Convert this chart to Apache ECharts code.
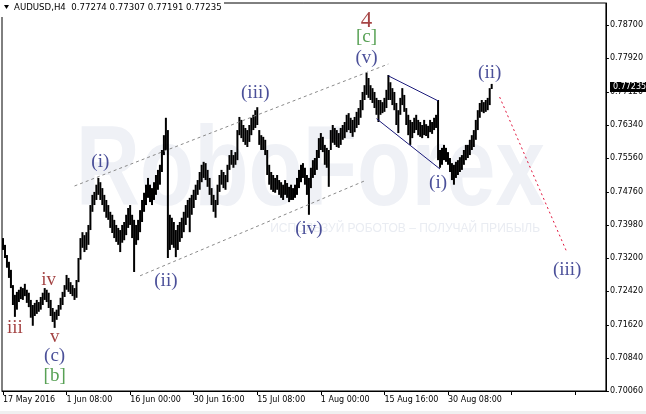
<!DOCTYPE html>
<html><head><meta charset="utf-8">
<script src="https://cdn.jsdelivr.net/npm/echarts@6/dist/echarts.min.js"></script>
<style>html,body{margin:0;padding:0;background:#fff}#c{width:646px;height:414px}</style>
</head><body><div id="c"></div>
<script>
// ---- data (H4 bars, grouped two per slot: high / low) ----
const highs=[
0.7367,0.7351,0.7327,0.7311,0.7292,0.7256,0.7233,0.7240,0.7245,0.7252,
0.7249,0.7259,0.7245,0.7238,0.7221,0.7209,0.7214,0.7221,0.7216,0.7228,
0.7238,0.7249,0.7245,0.7238,0.7221,0.7202,0.7193,0.7198,0.7209,0.7226,
0.7240,0.7256,0.7280,0.7273,0.7263,0.7256,0.7249,0.7268,0.7320,0.7367,
0.7381,0.7374,0.7381,0.7398,0.7445,0.7469,0.7476,0.7493,0.7509,0.7499,
0.7485,0.7469,0.7457,0.7445,0.7429,0.7422,0.7410,0.7398,0.7391,0.7386,
0.7398,0.7405,0.7422,0.7438,0.7445,0.7422,0.7410,0.7398,0.7410,0.7433,
0.7457,0.7474,0.7493,0.7509,0.7493,0.7485,0.7499,0.7516,0.7528,0.7540,
0.7575,0.7610,0.7651,0.7622,0.7422,0.7415,0.7405,0.7386,0.7398,0.7405,
0.7415,0.7429,0.7445,0.7457,0.7462,0.7469,0.7481,0.7493,0.7504,0.7523,
0.7540,0.7547,0.7544,0.7528,0.7509,0.7485,0.7469,0.7457,0.7493,0.7516,
0.7528,0.7523,0.7516,0.7540,0.7563,0.7575,0.7563,0.7570,0.7622,0.7653,
0.7646,0.7634,0.7627,0.7622,0.7634,0.7651,0.7658,0.7669,0.7676,0.7622,
0.7610,0.7606,0.7599,0.7575,0.7540,0.7523,0.7516,0.7509,0.7516,0.7504,
0.7499,0.7493,0.7504,0.7497,0.7488,0.7493,0.7485,0.7493,0.7509,0.7528,
0.7540,0.7544,0.7533,0.7516,0.7509,0.7533,0.7551,0.7556,0.7575,0.7603,
0.7615,0.7606,0.7587,0.7580,0.7575,0.7622,0.7634,0.7627,0.7622,0.7615,
0.7627,0.7634,0.7641,0.7658,0.7662,0.7651,0.7646,0.7653,0.7665,0.7674,
0.7693,0.7712,0.7728,0.7757,0.7745,0.7728,0.7721,0.7712,0.7698,0.7693,
0.7693,0.7688,0.7698,0.7717,0.7752,0.7735,0.7721,0.7712,0.7686,0.7669,
0.7698,0.7721,0.7705,0.7674,0.7658,0.7646,0.7641,0.7651,0.7658,0.7646,
0.7641,0.7634,0.7646,0.7636,0.7632,0.7646,0.7641,0.7651,0.7658,0.7693,
0.7575,0.7580,0.7587,0.7580,0.7570,0.7556,0.7544,0.7540,0.7547,0.7551,
0.7558,0.7563,0.7575,0.7587,0.7587,0.7599,0.7610,0.7622,0.7646,0.7669,
0.7686,0.7693,0.7688,0.7693,0.7698,0.7721,0.7731];
const lows=[
0.7339,0.7320,0.7297,0.7273,0.7249,0.7209,0.7181,0.7198,0.7216,0.7223,
0.7221,0.7230,0.7214,0.7204,0.7179,0.7160,0.7183,0.7188,0.7193,0.7198,
0.7209,0.7221,0.7216,0.7202,0.7183,0.7169,0.7155,0.7174,0.7183,0.7198,
0.7209,0.7228,0.7245,0.7240,0.7235,0.7230,0.7221,0.7226,0.7263,0.7316,
0.7344,0.7334,0.7339,0.7351,0.7386,0.7429,0.7445,0.7457,0.7469,0.7457,
0.7445,0.7429,0.7415,0.7410,0.7391,0.7379,0.7367,0.7358,0.7351,0.7334,
0.7356,0.7362,0.7374,0.7391,0.7398,0.7367,0.7287,0.7351,0.7362,0.7381,
0.7405,0.7429,0.7445,0.7462,0.7452,0.7445,0.7457,0.7469,0.7481,0.7493,
0.7523,0.7563,0.7575,0.7320,0.7339,0.7351,0.7344,0.7322,0.7339,0.7358,
0.7367,0.7381,0.7398,0.7415,0.7381,0.7422,0.7438,0.7457,0.7469,0.7481,
0.7499,0.7509,0.7504,0.7488,0.7469,0.7445,0.7429,0.7415,0.7445,0.7476,
0.7493,0.7485,0.7481,0.7499,0.7528,0.7540,0.7533,0.7540,0.7551,0.7610,
0.7603,0.7594,0.7587,0.7582,0.7594,0.7610,0.7622,0.7627,0.7634,0.7587,
0.7575,0.7575,0.7563,0.7516,0.7493,0.7481,0.7476,0.7474,0.7481,0.7469,
0.7462,0.7457,0.7469,0.7462,0.7452,0.7457,0.7457,0.7462,0.7469,0.7485,
0.7499,0.7509,0.7493,0.7469,0.7422,0.7485,0.7509,0.7516,0.7528,0.7556,
0.7575,0.7570,0.7540,0.7533,0.7488,0.7575,0.7592,0.7587,0.7582,0.7580,
0.7587,0.7599,0.7603,0.7617,0.7622,0.7615,0.7606,0.7617,0.7627,0.7634,
0.7651,0.7669,0.7693,0.7705,0.7698,0.7693,0.7686,0.7674,0.7658,0.7641,
0.7658,0.7662,0.7665,0.7674,0.7693,0.7693,0.7681,0.7669,0.7634,0.7615,
0.7658,0.7681,0.7665,0.7634,0.7610,0.7587,0.7603,0.7615,0.7622,0.7610,
0.7606,0.7603,0.7610,0.7608,0.7603,0.7617,0.7613,0.7622,0.7627,0.7551,
0.7533,0.7540,0.7551,0.7547,0.7540,0.7523,0.7504,0.7493,0.7509,0.7516,
0.7523,0.7528,0.7540,0.7551,0.7556,0.7563,0.7575,0.7582,0.7599,0.7622,
0.7651,0.7665,0.7662,0.7665,0.7669,0.7681,0.7719];
const yTicks=[0.70060,0.70840,0.71620,0.72420,0.73200,0.73980,0.74760,0.75560,0.76340,0.77120,0.77920,0.78700];
const xTickLabels=['17 May 2016','1 Jun 08:00','16 Jun 00:00','30 Jun 16:00','15 Jul 08:00','1 Aug 00:00','15 Aug 16:00','30 Aug 08:00'];
const symbolName='AUDUSD,H4';
const lastQuote=[0.77274,0.77307,0.77191,0.77235];

// ---- annotations (data coordinates: slot index, price) ----
const channelUpper=[[36,0.7490],[194,0.7778]];
const channelLower=[[69,0.7278],[182,0.7502]];
const wedgeUpper=[[194,0.7750],[219,0.7691]];
const wedgeLower=[[188,0.7649],[220,0.7530]];
const forecastLine=[[250,0.7700],[284,0.7332]];
const waveLabels=[
 ['4',183,0.7879,'red4'],['[c]',183,0.7842,'green'],['(v)',183,0.7792,'navy'],
 ['(iii)',127,0.7710,'navy'],['(i)',49,0.7547,'navy'],['(ii)',82,0.7266,'navy'],
 ['(iv)',154,0.7389,'navy'],['(i)',219,0.7497,'navy'],['(ii)',245,0.7757,'navy'],
 ['(iii)',284,0.7292,'navy'],
 ['iii',6,0.7154,'red'],['iv',23,0.7268,'red'],['v',26,0.7134,'red'],
 ['(c)',26,0.7089,'navy'],['[b]',26,0.7042,'green']
];

const SLOTS=304, PER_LABEL=32;
const categories=[];
for(let i=0;i<SLOTS;i++){categories.push(i%PER_LABEL===0&&xTickLabels[i/PER_LABEL]?xTickLabels[i/PER_LABEL]:'s'+i);}
const barData=highs.map((h,i)=>[i,lows[i],h]);

const styles={
 navy:{color:'#1e2480',fontSize:19},
 red:{color:'#8b1010',fontSize:19},
 red4:{color:'#8e1414',fontSize:23},
 green:{color:'#2e8a2a',fontSize:19}
};
const labelData=waveLabels.map(w=>({value:[w[1],w[2]],label:{show:true,position:'inside',formatter:w[0],
  color:styles[w[3]].color,fontSize:styles[w[3]].fontSize,fontFamily:'Liberation Serif'}}));

function seg(data,color,type,w){return {type:'line',data:data,symbol:'none',silent:true,z:3,
  lineStyle:{color:color,width:w||1,type:type},animation:false};}

const chart=echarts.init(document.getElementById('c'),null,{renderer:'canvas'});
const tickFont={fontFamily:'DejaVu Sans',fontSize:8,color:'#000'};
chart.setOption({
 animation:false,
 grid:{left:2,right:36,top:3,bottom:23,show:true,borderColor:'#000',borderWidth:1,backgroundColor:'transparent'},
 xAxis:{type:'category',data:categories,boundaryGap:true,
   axisLine:{show:true,lineStyle:{color:'#000',width:1}},
   axisTick:{show:true,alignWithLabel:true,interval:(i)=>i%PER_LABEL===0,length:4,lineStyle:{color:'#000'}},
   axisLabel:Object.assign({interval:(i)=>i%PER_LABEL===0 && i/PER_LABEL<xTickLabels.length,align:'left',margin:5},tickFont),
   splitLine:{show:false}},
 yAxis:{type:'value',position:'right',min:0.7006,max:0.7922,scale:true,
   axisLine:{show:true,lineStyle:{color:'#000'}},
   axisTick:{show:true,length:3,customValues:yTicks,lineStyle:{color:'#000'}},
   axisLabel:Object.assign({customValues:yTicks,margin:4,formatter:(v)=>v.toFixed(5)},tickFont),
   splitLine:{show:false}},
 series:[
  {type:'custom',data:barData,encode:{x:0,y:[1,2]},z:2,silent:true,
   renderItem:function(params,api){
     const i=api.value(0);
     const lo=api.coord([i,api.value(1)]), hi=api.coord([i,api.value(2)]);
     return {type:'rect',shape:{x:lo[0]-1,y:hi[1],width:2,height:Math.max(1,lo[1]-hi[1])},style:{fill:'#000'}};
   }},
  seg(channelUpper,'#8a8a8a',[3,3]),
  seg(channelLower,'#8a8a8a',[3,3]),
  seg(wedgeUpper,'#1a1a7a','solid'),
  seg(wedgeLower,'#1a1a7a','solid'),
  seg(forecastLine,'#e0143c',[2,3]),
  {type:'scatter',data:labelData,symbolSize:1,itemStyle:{color:'rgba(0,0,0,0)'},silent:true,z:5}
 ]
});

const py=chart.convertToPixel({yAxisIndex:0},lastQuote[3]);
chart.setOption({graphic:[
 {type:'text',z:-5,silent:true,x:62,y:174,scaleX:0.78,originX:62,
  style:{text:'RoboForex',font:'bold 114px "Liberation Sans"',fill:'#eff1f6',verticalAlign:'middle',align:'left'}},
 {type:'text',z:-5,silent:true,x:540,y:229,
  style:{text:'ИСПОЛЬЗУЙ РОБОТОВ – ПОЛУЧАЙ ПРИБЫЛЬ',font:'12px "Liberation Sans"',fill:'#e9ecf2',align:'right',verticalAlign:'middle'}},
 {type:'rect',z:100,silent:true,shape:{x:0,y:0,width:224,height:17},style:{fill:'#fff'}},
 {type:'polygon',z:101,silent:true,shape:{points:[[4,5],[9,5],[6.5,9]]},style:{fill:'#000'}},
 {type:'text',z:101,silent:true,x:14,y:8,
  style:{text:symbolName+'  '+lastQuote.map(v=>v.toFixed(5)).join(' '),font:'8.6px "DejaVu Sans"',fill:'#000',verticalAlign:'middle'}},
 {type:'rect',z:100,silent:true,shape:{x:610,y:Math.round(py)-5,width:36,height:10},style:{fill:'#000'}},
 {type:'text',z:101,silent:true,x:613,y:Math.round(py),
  style:{text:lastQuote[3].toFixed(5),font:'8px "DejaVu Sans"',fill:'#fff',verticalAlign:'middle'}},
 {type:'rect',z:100,silent:true,shape:{x:0,y:411,width:646,height:3},style:{fill:'#f0f0f0'}}
]});
</script></body></html>
